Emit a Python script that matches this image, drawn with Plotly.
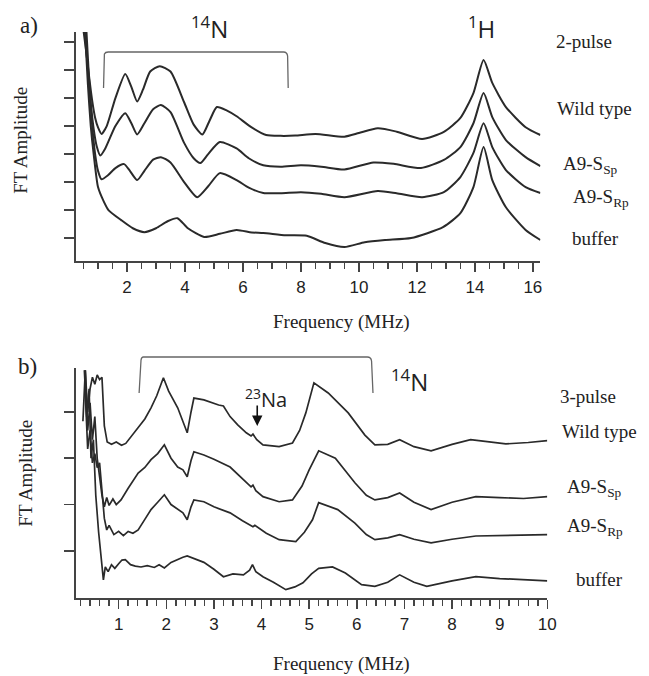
import plotly.graph_objects as go

W, H = 649, 676

# ---------------- Panel a: 2-pulse FT spectra (MHz, offset amplitude) ----------------
a_wt_x = [0.5, 0.6, 0.7, 0.8, 0.9, 1.0, 1.12, 1.3, 1.6, 1.94, 2.15, 2.35, 2.55, 2.8, 3.13, 3.5, 3.97, 4.3, 4.6, 4.85, 5.1, 5.45, 5.78, 6.3, 6.8, 7.3, 7.8, 8.5, 9.5, 10.0, 10.65, 11.3, 12.18, 12.93, 13.5, 13.95, 14.3, 14.6, 15.07, 15.75, 16.26]
a_wt_y = [7.4, 6.6, 5.7, 4.9, 4.3, 3.95, 3.72, 4.0, 5.0, 5.86, 5.4, 4.88, 5.3, 5.95, 6.14, 5.95, 4.85, 4.05, 3.7, 4.2, 4.68, 4.55, 4.35, 3.95, 3.68, 3.65, 3.66, 3.72, 3.62, 3.75, 3.92, 3.8, 3.54, 3.79, 4.29, 5.18, 6.36, 5.54, 4.68, 3.96, 3.68]

a_ssp_x = [0.55, 0.65, 0.75, 0.85, 0.95, 1.08, 1.25, 1.6, 1.94, 2.15, 2.35, 2.6, 2.9, 3.17, 3.5, 3.97, 4.3, 4.53, 4.8, 5.2, 5.78, 6.2, 6.7, 7.3, 8.0, 8.7, 9.5, 10.5, 11.2, 12.14, 12.93, 13.5, 13.95, 14.3, 14.6, 15.07, 15.75, 16.26]
a_ssp_y = [7.4, 6.0, 4.8, 3.9, 3.3, 2.95, 3.2, 4.0, 4.46, 4.1, 3.7, 4.1, 4.6, 4.75, 4.5, 3.4, 2.85, 2.68, 3.0, 3.43, 3.2, 2.85, 2.6, 2.55, 2.6, 2.55, 2.45, 2.7, 2.65, 2.5, 2.79, 3.25, 4.1, 5.18, 4.32, 3.5, 2.89, 2.57]

a_srp_x = [0.6, 0.7, 0.8, 0.9, 1.0, 1.12, 1.35, 1.6, 1.9, 2.1, 2.35, 2.6, 2.9, 3.17, 3.5, 3.97, 4.42, 4.8, 5.2, 5.78, 6.2, 6.7, 7.3, 8.0, 8.7, 9.5, 10.65, 11.3, 12.18, 12.93, 13.5, 13.95, 14.3, 14.6, 15.07, 15.75, 16.26]
a_srp_y = [7.4, 5.5, 4.0, 3.0, 2.4, 2.1, 2.25, 2.5, 2.64, 2.4, 2.07, 2.4, 2.8, 2.89, 2.7, 2.0, 1.46, 1.85, 2.32, 2.07, 1.8, 1.61, 1.6, 1.64, 1.58, 1.46, 1.68, 1.6, 1.46, 1.64, 2.18, 3.04, 4.1, 3.25, 2.43, 1.82, 1.61]

a_buf_x = [0.55, 0.65, 0.75, 0.85, 1.0, 1.2, 1.36, 1.8, 2.2, 2.6, 3.0, 3.4, 3.74, 4.1, 4.66, 5.2, 5.78, 6.3, 6.7, 7.48, 8.2, 8.84, 9.5, 10.2, 10.9, 11.8, 12.9, 13.5, 13.95, 14.3, 14.6, 15.07, 15.75, 16.26]
a_buf_y = [7.4, 5.5, 4.0, 3.0, 1.82, 1.3, 1.0, 0.64, 0.35, 0.21, 0.35, 0.6, 0.71, 0.35, 0.04, 0.15, 0.29, 0.2, 0.18, 0.1, 0.08, -0.18, -0.32, -0.15, -0.07, 0.0, 0.39, 0.89, 1.82, 3.25, 2.07, 1.1, 0.29, -0.07]

# ---------------- Panel b: 3-pulse FT spectra ----------------
b_wt_x = [0.25, 0.3, 0.35, 0.4, 0.45, 0.5, 0.55, 0.6, 0.65, 0.7, 0.76, 0.85, 0.95, 1.06, 1.15, 1.25, 1.41, 1.55, 1.68, 1.8, 1.94, 2.05, 2.24, 2.35, 2.44, 2.52, 2.58, 2.79, 2.95, 3.1, 3.2, 3.34, 3.5, 3.68, 3.78, 3.82, 3.9, 4.03, 4.37, 4.65, 4.8, 4.93, 5.1, 5.4, 5.82, 6.17, 6.38, 6.65, 6.9, 7.2, 7.56, 8.0, 8.39, 8.8, 9.13, 9.6, 10.0]
b_wt_y = [2.8, 3.9, 3.0, 3.5, 3.75, 3.6, 3.8, 3.7, 3.75, 2.7, 2.35, 2.3, 2.35, 2.28, 2.32, 2.45, 2.68, 2.85, 3.09, 3.35, 3.74, 3.45, 3.09, 2.8, 2.55, 3.0, 3.3, 3.26, 3.2, 3.15, 3.13, 2.9, 2.72, 2.55, 2.48, 2.52, 2.4, 2.29, 2.25, 2.33, 2.6, 2.98, 3.63, 3.41, 2.98, 2.5, 2.29, 2.3, 2.4, 2.25, 2.16, 2.3, 2.4, 2.35, 2.31, 2.34, 2.38]

b_ssp_x = [0.3, 0.35, 0.4, 0.45, 0.5, 0.55, 0.6, 0.65, 0.7, 0.75, 0.8, 0.88, 0.95, 1.05, 1.2, 1.41, 1.55, 1.68, 1.82, 1.96, 2.1, 2.24, 2.35, 2.44, 2.52, 2.58, 2.79, 3.0, 3.34, 3.5, 3.68, 3.78, 3.82, 3.88, 4.03, 4.37, 4.65, 4.85, 5.0, 5.2, 5.55, 5.96, 6.2, 6.38, 6.65, 6.9, 7.2, 7.56, 8.0, 8.5, 9.0, 9.5, 10.0]
b_ssp_y = [3.9, 2.6, 3.2, 2.4, 2.9, 2.0, 1.6, 1.2, 0.95, 1.15, 0.98, 1.12, 1.0, 1.1, 1.35, 1.68, 1.8, 1.97, 2.1, 2.29, 2.0, 1.81, 1.75, 1.6, 1.95, 2.14, 2.07, 1.98, 1.81, 1.65, 1.47, 1.38, 1.42, 1.3, 1.17, 1.06, 1.1, 1.4, 1.75, 2.16, 2.0, 1.47, 1.2, 1.1, 1.15, 1.25, 1.05, 0.89, 1.05, 1.17, 1.15, 1.13, 1.17]

b_srp_x = [0.3, 0.35, 0.4, 0.45, 0.5, 0.55, 0.6, 0.65, 0.7, 0.75, 0.8, 0.9, 1.0, 1.1, 1.2, 1.3, 1.41, 1.55, 1.68, 1.82, 1.96, 2.1, 2.24, 2.35, 2.44, 2.52, 2.58, 2.79, 3.0, 3.34, 3.6, 3.82, 3.86, 4.1, 4.37, 4.72, 4.9, 5.07, 5.2, 5.6, 5.96, 6.2, 6.38, 6.65, 6.9, 7.2, 7.56, 8.0, 8.5, 9.0, 9.5, 10.0]
b_srp_y = [3.4, 2.2, 2.6, 1.9, 2.1, 1.8, 1.9, 1.3, 0.7, 0.45, 0.55, 0.35, 0.42, 0.33, 0.42, 0.38, 0.45, 0.68, 0.89, 1.05, 1.21, 1.0, 0.89, 0.82, 0.67, 0.95, 1.1, 1.06, 0.95, 0.82, 0.65, 0.52, 0.55, 0.38, 0.24, 0.2, 0.4, 0.67, 1.04, 0.89, 0.6, 0.35, 0.24, 0.28, 0.35, 0.25, 0.17, 0.25, 0.32, 0.33, 0.34, 0.35]

b_buf_x = [0.28, 0.33, 0.38, 0.42, 0.47, 0.52, 0.58, 0.64, 0.68, 0.72, 0.78, 0.85, 0.92, 1.0, 1.07, 1.14, 1.25, 1.35, 1.47, 1.6, 1.75, 1.85, 1.96, 2.1, 2.24, 2.35, 2.44, 2.55, 2.79, 3.0, 3.2, 3.4, 3.62, 3.75, 3.81, 3.88, 4.03, 4.25, 4.51, 4.7, 4.87, 5.05, 5.2, 5.49, 5.76, 6.1, 6.38, 6.65, 6.9, 7.2, 7.47, 8.0, 8.5, 9.0, 9.55, 10.0]
b_buf_y = [3.9, 2.9, 3.5, 2.0, 2.4, 1.2, 0.4, -0.2, -0.63, -0.35, -0.45, -0.3, -0.38, -0.28, -0.2, -0.19, -0.3, -0.33, -0.35, -0.32, -0.36, -0.3, -0.37, -0.25, -0.18, -0.14, -0.11, -0.15, -0.25, -0.4, -0.56, -0.5, -0.52, -0.42, -0.3, -0.45, -0.56, -0.68, -0.84, -0.78, -0.69, -0.5, -0.38, -0.35, -0.48, -0.73, -0.77, -0.68, -0.52, -0.68, -0.77, -0.65, -0.56, -0.6, -0.63, -0.65]

a_xticks_major = 2
a_xticks_minor = 0.5
a_yticks = [0, 1, 2, 3, 4, 5, 6, 7]
b_xticks_major = 1
b_xticks_minor = 0.2
b_yticks = [0, 1, 2, 3]

a_labels = ["2-pulse", "Wild type", "A9-S<sub>Sp</sub>", "A9-S<sub>Rp</sub>", "buffer"]
b_labels = ["3-pulse", "Wild type", "A9-S<sub>Sp</sub>", "A9-S<sub>Rp</sub>", "buffer"]

# ---------------- styling ----------------
LINE = "#2a2a2a"
AX = "#444444"
TXT = "#222222"
SERIF = "Liberation Serif"
SANS = "Liberation Sans"
ISO = "Open Sans"


def px(x):
    return x / W


def py(y):
    return 1 - y / H


fig = go.Figure()

for xs, ys in [(a_wt_x, a_wt_y), (a_ssp_x, a_ssp_y), (a_srp_x, a_srp_y), (a_buf_x, a_buf_y)]:
    fig.add_trace(go.Scatter(x=xs, y=ys, mode="lines", xaxis="x", yaxis="y",
                             line=dict(color=LINE, width=2, shape="spline", smoothing=0.6),
                             showlegend=False, hoverinfo="skip"))

for xs, ys in [(b_wt_x, b_wt_y), (b_ssp_x, b_ssp_y), (b_srp_x, b_srp_y), (b_buf_x, b_buf_y)]:
    fig.add_trace(go.Scatter(x=xs, y=ys, mode="lines", xaxis="x2", yaxis="y2",
                             line=dict(color=LINE, width=1.7),
                             showlegend=False, hoverinfo="skip"))

xcommon = dict(showline=True, linecolor=AX, linewidth=2, ticks="outside", tickcolor=AX,
               tickwidth=1.5, ticklen=9, showgrid=False, zeroline=False,
               tickfont=dict(family=SANS, size=17, color=TXT), tickmode="linear", tick0=0,
               ticklabelstandoff=1)
ycommon = dict(showline=True, linecolor=AX, linewidth=2, ticks="outside", tickcolor=AX,
               tickwidth=1.5, ticklen=10, showgrid=False, zeroline=False,
               showticklabels=False, tickmode="array")

fig.update_layout(
    width=W, height=H, margin=dict(l=0, r=0, t=0, b=0),
    paper_bgcolor="white", plot_bgcolor="white", showlegend=False,
    xaxis=dict(domain=[px(77), px(548)], range=[0.238, 16.26], anchor="y", dtick=a_xticks_major,
               minor=dict(dtick=a_xticks_minor, tick0=0, ticks="outside", ticklen=6, tickwidth=1.5, tickcolor=AX),
               **xcommon),
    yaxis=dict(domain=[py(261), py(32)], range=[-0.82, 7.36], anchor="x", tickvals=a_yticks, **ycommon),
    xaxis2=dict(domain=[px(77), px(555)], range=[0.1035, 10.0], anchor="y2", dtick=b_xticks_major,
                minor=dict(dtick=b_xticks_minor, tick0=0, ticks="outside", ticklen=6, tickwidth=1.5, tickcolor=AX),
                **xcommon),
    yaxis2=dict(domain=[py(598), py(368)], range=[-1.02, 3.95], anchor="x2", tickvals=b_yticks, **ycommon),
)

ann = []


def text(x, y, s, size, family=SERIF, xanchor="left", angle=0):
    ann.append(dict(x=px(x), y=py(y), xref="paper", yref="paper", text=s, showarrow=False,
                    xanchor=xanchor, yanchor="middle", textangle=angle,
                    font=dict(family=family, size=size, color=TXT)))


# panel letters
text(29, 26, "a)", 23, xanchor="center")
text(28, 366, "b)", 23, xanchor="center")
# axis titles
text(21, 140, "FT Amplitude", 19, xanchor="center", angle=-90)
text(25, 473, "FT Amplitude", 19, xanchor="center", angle=-90)
text(346, 322, "Frequency (MHz)", 19, xanchor="center")
text(346, 664, "Frequency (MHz)", 19, xanchor="center")
# isotope labels
text(212, 27, "<sup>14</sup>N", 24, family=ISO, xanchor="center")
text(488, 27, "<sup>1</sup>H", 24, family=ISO, xanchor="center")
text(415, 380, "<sup>14</sup>N", 24, family=ISO, xanchor="center")
text(270, 398, "<sup>23</sup>Na", 20, family=ISO, xanchor="center")
# sample labels
for (lx, ly), s in zip([(562, 42), (563, 108), (569, 165), (579, 198), (578, 239)], a_labels):
    text(lx, ly, s, 19)
for (lx, ly), s in zip([(566, 397), (568, 431), (573, 488), (573, 527), (582, 579)], b_labels):
    text(lx, ly, s, 19)

# 23Na arrow
ann.append(dict(x=3.91, y=py(426), xref="x2", yref="paper", text="", showarrow=True,
                ax=0, ay=-22, arrowhead=2, arrowsize=1.3, arrowwidth=1.6, arrowcolor="#111"))

fig.update_layout(annotations=ann)

# 14N brackets (x in MHz, y in paper)
BR = dict(color="#666666", width=1.3)
fig.add_shape(type="path", xref="x", yref="paper",
              path=f"M 1.19 {py(88)} L 1.22 {py(54)} Q 1.25 {py(52)} 1.35 {py(52)} L 7.4 {py(52)} Q 7.52 {py(52)} 7.54 {py(56)} L 7.56 {py(88)}",
              line=BR)
fig.add_shape(type="path", xref="x2", yref="paper",
              path=f"M 1.43 {py(393)} L 1.47 {py(360)} Q 1.48 {py(357)} 1.52 {py(357)} L 6.22 {py(357)} Q 6.3 {py(357)} 6.31 {py(361)} L 6.34 {py(393)}",
              line=BR)

fig.write_html("out.html", config={"displayModeBar": False, "staticPlot": True},
               post_script="document.body.style.margin='0px';")
